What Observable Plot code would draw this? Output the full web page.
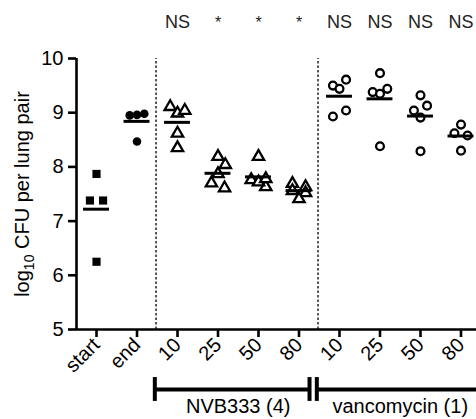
<!DOCTYPE html>
<html><head><meta charset="utf-8">
<script src="https://cdn.jsdelivr.net/npm/d3@7"></script>
<script src="https://cdn.jsdelivr.net/npm/@observablehq/plot@0.6"></script>
<style>
body{margin:0;background:#fff;}
#chart svg{display:block;}
</style></head><body><div id="chart"></div>
<script>
// ---- data ----
const tickLabels = ["start", "end", "10", "25", "50", "80", "10", "25", "50", "80"];
const startVals = [7.87, 7.38, 7.38, 6.25];
const endVals   = [8.95, 8.96, 8.98, 8.47];
const nvb10 = [9.11, 8.99, 9.04, 8.62, 8.35];
const nvb25 = [8.19, 8.04, 7.87, 7.70, 7.61];
const nvb50 = [8.19, 7.76, 7.63, 7.72, 7.78];
const nvb80 = [7.69, 7.63, 7.56, 7.52, 7.41];
const van10 = [9.50, 9.44, 9.61, 8.93, 9.04];
const van25 = [9.73, 9.38, 9.35, 9.44, 8.38];
const van50 = [9.32, 9.04, 9.13, 8.91, 8.29];
const van80 = [8.78, 8.62, 8.58, 8.30];
const significance = ["", "", "NS", "*", "*", "*", "NS", "NS", "NS", "NS"];
const groupNames = ["NVB333 (4)", "vancomycin (1)"];
const groupFirst = [2, 6];
const groupLast = [5, 9];
const yTicks = [5, 6, 7, 8, 9, 10];
const yLabel = "log10 CFU per lung pair";

const series = [startVals, endVals, nvb10, nvb25, nvb50, nvb80, van10, van25, van50, van80];

// deterministic scatter spreading (rows of near-equal values side by side)
function lanes(vals) {
  const idx = vals.map((v, k) => k).sort((a, b) => vals[b] - vals[a] || a - b);
  const rows = [];
  for (const k of idx) {
    const r = rows[rows.length - 1];
    if (r && vals[r[0]] - vals[k] < 0.125) r.push(k); else rows.push([k]);
  }
  const off = new Array(vals.length).fill(0);
  let toggle = 1, prev = null;
  for (const r of rows) {
    const m = r.slice().sort((a, b) => a - b);
    const n = m.length;
    if (n === 1) {
      let o = 0;
      if (prev && d3.min(prev, k => vals[k]) - vals[m[0]] < 0.18 && prev.some(k => off[k] === 0)) { o = toggle; toggle = -toggle; }
      off[m[0]] = o;
    } else {
      m.forEach((k, j) => off[k] = n === 2 ? (j === 0 ? -0.9 : 0.9) : j - (n - 1) / 2);
    }
    prev = m;
  }
  return off;
}

const laneW = 0.18;
const points = [];
series.forEach((vals, i) => {
  const off = lanes(vals);
  vals.forEach((v, k) => points.push({cat: i, x: i + off[k] * laneW, y: v}));
});
const means = series.map((vals, i) => ({i, m: d3.mean(vals)}));
const sig = significance.map((s, i) => ({i, s})).filter(d => d.s);
const brackets = groupNames.map((name, g) => ({
  name, first: groupFirst[g], last: groupLast[g],
  x1: groupFirst[g] - 0.56, x2: g === groupNames.length - 1 ? groupLast[g] + 0.7 : groupLast[g] + 0.26
}));
const caps = brackets.flatMap(b => [b.x1, b.x2]);
const separators = groupFirst.map(f => f - 0.53);

const xDomain = [-0.494, 9.383];
const yDomain = [5, 10];

const svg = Plot.plot({
  width: 476, height: 419,
  marginLeft: 76, marginRight: 0, marginTop: 58, marginBottom: 90,
  style: {fontFamily: "'Liberation Sans', Arial, Helvetica, sans-serif", background: "white", color: "black"},
  x: {type: "linear", domain: xDomain, axis: null},
  y: {domain: yDomain, axis: null},
  marks: [
    Plot.ruleX(separators, {y1: () => yDomain[0], y2: () => yDomain[1], strokeWidth: 1.3, strokeDasharray: "2.5,2"}),
    Plot.dot(points.filter(d => d.cat === 0), {x: "x", y: "y", symbol: "square", fill: "black", r: 4.6}),
    Plot.dot(points.filter(d => d.cat === 1), {x: "x", y: "y", symbol: "circle", fill: "black", r: 4.3}),
    Plot.dot(points.filter(d => d.cat >= 2 && d.cat <= 5), {x: "x", y: "y", symbol: "triangle", fill: "white", stroke: "black", strokeWidth: 2.3, r: 4.2}),
    Plot.dot(points.filter(d => d.cat >= 6), {x: "x", y: "y", symbol: "circle", fill: "white", stroke: "black", strokeWidth: 2.3, r: 3.9}),
    Plot.ruleY(means, {y: "m", x1: d => d.i - 0.32, x2: d => d.i + 0.32, strokeWidth: 3}),
    Plot.ruleX([xDomain[0]], {y1: () => yDomain[0], y2: () => yDomain[1], strokeWidth: 2.6}),
    Plot.ruleY([yDomain[0]], {strokeWidth: 2.6}),
    Plot.axisY({ticks: yTicks, tickFormat: d => String(d), tickSize: 8, tickPadding: 5, fontSize: 20, strokeWidth: 2.6, label: null}),
    Plot.axisX({ticks: d3.range(tickLabels.length), tickFormat: i => tickLabels[i], tickRotate: -45, tickSize: 8, tickPadding: 4, fontSize: 20, strokeWidth: 2.6, label: null}),
    Plot.text(sig, {x: "i", y: () => yDomain[1], text: "s", dy: -36, fontSize: d => d.s === "*" ? 16 : 18, fill: "#222"}),
    Plot.ruleY(brackets, {y: () => yDomain[0], x1: "x1", x2: "x2", dy: 60, strokeWidth: 4}),
    Plot.ruleX(caps, {x: d => d, y1: () => yDomain[0] + 0.22, y2: () => yDomain[0] - 0.22, dy: 60, strokeWidth: 4}),
    Plot.text(brackets, {x: d => (d.first + d.last) / 2, y: () => yDomain[0], text: "name", dy: 77, fontSize: 20}),
    Plot.text([yLabel], {x: () => xDomain[0], y: () => (yDomain[0] + yDomain[1]) / 2, text: d => d, dx: -54, rotate: -90, fontSize: 20})
  ]
});

// subscript for log10
d3.select(svg).selectAll("text").filter(function () { return this.textContent === yLabel; }).each(function () {
  const t = d3.select(this);
  t.text(null);
  t.append("tspan").text("log");
  t.append("tspan").attr("dy", 5).attr("font-size", 14).text("10");
  t.append("tspan").attr("dy", -5).text(" CFU per lung pair");
});

document.getElementById("chart").appendChild(svg);
</script>
</body></html>
